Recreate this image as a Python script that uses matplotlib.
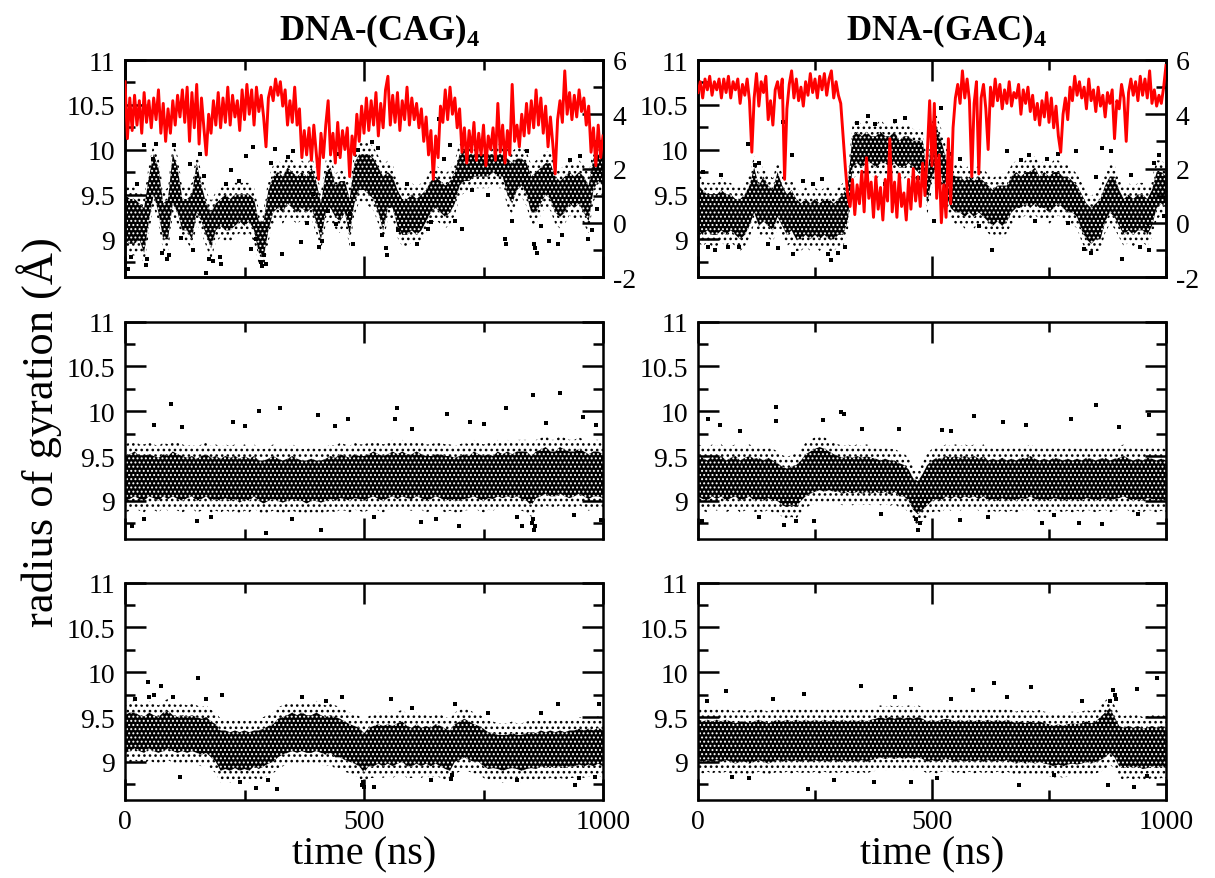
import matplotlib
matplotlib.use('Agg')
import matplotlib.pyplot as plt
from matplotlib.ticker import FixedLocator

plt.rcParams['font.family'] = ['Liberation Serif', 'DejaVu Serif']
plt.rcParams['mathtext.fontset'] = 'custom'
plt.rcParams['mathtext.rm'] = 'Liberation Serif'
plt.rcParams['mathtext.bf'] = 'Liberation Serif:bold'
plt.rcParams['axes.unicode_minus'] = False
plt.rcParams['hatch.linewidth'] = 1.0

# ---------------- data ----------------
time_grid = list(range(0, 1001, 10))   # ns, black Rg clouds (core band)
red_time = list(range(0, 1001, 5))     # ns, red series (right axis)

titles = ["DNA-(CAG)$_\\mathbf{4}$", "DNA-(GAC)$_\\mathbf{4}$"]
x_ticks = [0, 500, 1000]
y_ticks = [9, 9.5, 10, 10.5, 11]
y_tick_labels = ["9", "9.5", "10", "10.5", "11"]
y2_ticks = [-2, 0, 2, 4, 6]
y2_tick_labels = ["-2", "0", "2", "4", "6"]

# Top-left (CAG) Rg core band
TL_lo = [9.0, 8.95, 8.95, 9.0, 8.85, 9.2, 9.5, 9.3, 9.0, 9.0,
         9.4, 9.3, 9.1, 9.1, 9.0, 9.3, 9.2, 9.05, 8.9, 9.1,
         9.15, 9.1, 9.1, 9.15, 9.2, 9.15, 9.2, 9.1, 8.85, 8.8,
         9.1, 9.3, 9.35, 9.3, 9.4, 9.35, 9.3, 9.35, 9.3, 9.35,
         9.2, 9.0, 9.3, 9.35, 9.25, 9.2, 9.3, 9.05, 9.4, 9.55,
         9.55, 9.5, 9.45, 9.3, 9.1, 9.35, 9.35, 9.15, 9.05, 9.05,
         9.1, 9.05, 9.1, 9.2, 9.3, 9.35, 9.3, 9.25, 9.3, 9.4,
         9.6, 9.65, 9.65, 9.7, 9.7, 9.7, 9.7, 9.75, 9.7, 9.7,
         9.5, 9.4, 9.55, 9.6, 9.5, 9.3, 9.3, 9.4, 9.5, 9.45,
         9.3, 9.25, 9.3, 9.4, 9.35, 9.4, 9.3, 9.2, 9.55, 9.65,
         9.6]
TL_hi = [9.5, 9.45, 9.45, 9.4, 9.35, 9.7, 9.95, 9.8, 9.4, 9.45,
         9.95, 9.8, 9.45, 9.45, 9.5, 9.85, 9.6, 9.4, 9.3, 9.4,
         9.45, 9.5, 9.45, 9.5, 9.5, 9.5, 9.5, 9.45, 9.2, 9.2,
         9.55, 9.7, 9.75, 9.7, 9.8, 9.75, 9.7, 9.75, 9.7, 9.8,
         9.65, 9.4, 9.75, 9.8, 9.6, 9.65, 9.65, 9.45, 9.85, 9.95,
         9.95, 9.95, 9.9, 9.8, 9.7, 9.75, 9.7, 9.55, 9.45, 9.45,
         9.5, 9.45, 9.5, 9.55, 9.65, 9.7, 9.65, 9.6, 9.65, 9.75,
         9.95, 10.0, 9.95, 9.95, 9.95, 9.95, 9.95, 9.95, 9.95, 9.95,
         9.9, 9.85, 9.9, 9.9, 9.85, 9.7, 9.75, 9.8, 9.85, 9.85,
         9.7, 9.65, 9.7, 9.75, 9.7, 9.75, 9.7, 9.6, 9.9, 9.95,
         9.9]
TL_out_t = [6, 40, 44, 65, 103, 87, 135, 166, 170, 201, 198, 222, 254, 264, 268,
            284, 287, 290, 313, 329, 341, 369, 393, 425, 442, 470, 516, 545, 549,
            572, 641, 657, 680, 704, 795, 798, 855, 858, 862, 886, 905, 952, 968, 987,
            12, 25, 47, 58, 78, 92, 118, 143, 157, 176, 185, 211, 238, 275, 296,
            305, 352, 380, 406, 413, 448, 478, 488, 530, 538, 590, 610, 633, 668,
            690, 725, 760, 810, 842, 870, 915, 930, 978]
TL_out_v = [8.67, 10.05, 8.71, 10.06, 10.05, 8.78, 9.84, 9.71, 8.62, 8.72, 8.80,
            9.77, 9.93, 8.89, 10.03, 8.75, 8.70, 8.82, 10.01, 8.84, 9.92, 8.97,
            9.51, 9.32, 9.17, 9.28, 10.08, 8.9, 8.82, 9.10, 9.19, 10.34, 10.05,
            9.11, 9.0, 8.95, 8.95, 8.9, 8.85, 8.98, 8.95, 9.93, 9.0, 9.34,
            8.8, 9.62, 8.78, 9.9, 8.85, 8.82, 9.02, 8.88, 9.95, 8.78, 8.76, 9.62,
            9.65, 9.0, 8.72, 9.85, 9.98, 9.18, 8.92, 8.98, 9.95, 8.95, 10.0, 10.02,
            9.05, 9.62, 8.95, 9.12, 9.9, 9.2, 9.55, 9.5, 9.2, 9.98, 9.15, 9.05,
            9.88, 9.1]

# Top-left red series (right axis)
TL_red = [5.2, 3.1, 4.6, 3.4, 4.7, 3.6, 4.5, 3.3, 4.8, 3.7,
          4.5, 3.5, 4.6, 3.8, 4.9, 3.3, 4.4, 3.0, 4.2, 3.3,
          4.5, 3.6, 4.7, 3.9, 4.9, 3.7, 5.0, 3.0, 4.8, 3.5,
          5.1, 2.9, 4.6, 3.5, 2.5, 4.0, 3.3, 4.5, 3.6, 4.8,
          3.5, 4.6, 3.7, 5.0, 3.6, 4.7, 3.9, 4.5, 3.4, 4.9,
          3.8, 5.1, 4.0, 4.9, 3.6, 5.0, 4.1, 4.7, 3.9, 2.8,
          4.6, 5.0, 4.5, 5.3, 4.7, 5.2, 4.3, 4.9, 3.6, 4.5,
          3.7, 5.0, 3.6, 4.2, 2.4, 3.4, 2.5, 3.5, 2.3, 3.6,
          2.6, 1.6, 3.3, 2.4, 3.6, 4.5, 2.5, 3.3, 2.2, 3.7,
          2.4, 3.4, 2.7, 3.5, 1.7, 3.2, 2.5, 4.0, 3.0, 4.3,
          3.3, 4.6, 3.4, 4.5, 3.6, 4.8, 3.2, 4.4, 3.5, 4.9,
          5.4, 3.6, 4.7, 3.7, 4.8, 3.4, 4.5, 3.8, 5.0, 3.6,
          4.6, 3.8, 4.4, 3.5, 4.2, 3.0, 3.9, 2.5, 3.4, 1.6,
          3.2, 2.4, 4.3, 3.7, 4.9, 3.8, 5.0, 4.0, 4.6, 3.5,
          4.2, 2.6, 3.5, 2.2, 3.4, 2.6, 3.7, 2.3, 3.3, 2.5,
          3.6, 2.1, 3.2, 2.7, 3.5, 2.3, 4.4, 2.6, 3.6, 2.2,
          3.4, 2.5, 5.1, 3.0, 3.6, 2.8, 4.0, 3.2, 4.4, 3.3,
          4.5, 3.5, 4.9, 3.6, 4.6, 3.3, 4.3, 2.8, 3.9, 2.9,
          1.8, 3.8, 4.5, 3.7, 5.6, 4.0, 4.8, 3.8, 4.7, 3.9,
          4.9, 4.1, 4.6, 3.6, 4.3, 2.6, 3.5, 2.1, 3.6, 2.4,
          3.2]

# Top-right (GAC) Rg core band
TR_lo = [9.1, 9.05, 9.1, 9.05, 9.05, 9.1, 9.05, 9.1, 9.05, 9.0,
         9.05, 9.15, 9.3, 9.15, 9.2, 9.15, 9.1, 9.25, 9.15, 9.05,
         9.1, 9.0, 9.0, 9.05, 9.0, 9.05, 9.0, 9.05, 9.0, 9.0,
         9.05, 9.05, 9.2, 9.8, 9.85, 9.8, 9.85, 9.85, 9.8, 9.85,
         9.85, 9.8, 9.85, 9.8, 9.8, 9.85, 9.8, 9.75, 9.8, 9.4,
         9.7, 9.8, 9.7, 9.5, 9.35, 9.3, 9.3, 9.25, 9.3, 9.25,
         9.3, 9.25, 9.2, 9.15, 9.2, 9.15, 9.2, 9.3, 9.35, 9.35,
         9.4, 9.35, 9.4, 9.35, 9.35, 9.3, 9.35, 9.4, 9.35, 9.3,
         9.3, 9.25, 9.1, 9.0, 8.95, 9.0, 9.0, 9.2, 9.3, 9.25,
         9.15, 9.05, 9.1, 9.05, 9.1, 9.1, 9.05, 9.15, 9.35, 9.4,
         9.35]
TR_hi = [9.6, 9.55, 9.5, 9.5, 9.5, 9.55, 9.5, 9.5, 9.45, 9.45,
         9.5, 9.6, 9.8, 9.6, 9.7, 9.6, 9.55, 9.75, 9.6, 9.5,
         9.55, 9.45, 9.4, 9.45, 9.4, 9.45, 9.4, 9.45, 9.45, 9.4,
         9.45, 9.5, 9.6, 10.15, 10.2, 10.15, 10.2, 10.15, 10.15, 10.2,
         10.15, 10.15, 10.2, 10.1, 10.15, 10.15, 10.1, 10.1, 10.1, 9.7,
         10.2, 10.25, 10.1, 9.9, 9.75, 9.7, 9.7, 9.65, 9.7, 9.65,
         9.7, 9.65, 9.6, 9.55, 9.6, 9.6, 9.6, 9.7, 9.75, 9.7,
         9.75, 9.75, 9.8, 9.7, 9.75, 9.7, 9.75, 9.75, 9.7, 9.7,
         9.65, 9.6, 9.5, 9.4, 9.35, 9.4, 9.45, 9.6, 9.7, 9.7,
         9.55, 9.45, 9.5, 9.45, 9.5, 9.5, 9.45, 9.55, 9.75, 9.75,
         9.7]
TR_out_t = [21, 36, 64, 107, 121, 182, 200, 203, 264, 285, 278, 314, 364, 442,
            378, 520, 504, 629, 661, 707, 746, 807, 824, 864, 882, 907, 963, 985, 996,
            10, 50, 88, 130, 150, 170, 225, 245, 300, 340, 400, 420, 470, 540, 560,
            600, 690, 720, 770, 790, 840, 850, 925, 945, 975]
TR_out_v = [8.91, 8.88, 8.91, 10.06, 9.83, 10.31, 9.94, 8.84, 9.67, 8.77, 8.84,
            8.91, 10.38, 10.35, 10.29, 10.46, 9.21, 8.88, 9.98, 9.94, 9.9, 9.98,
            8.89, 10.02, 9.98, 8.78, 8.88, 9.94, 9.26,
            9.75, 9.72, 8.92, 9.85, 8.95, 8.9, 9.65, 9.62, 8.85, 10.3, 9.62,
            10.32, 9.68, 9.95, 9.9, 9.15, 9.88, 9.2, 9.95, 9.18, 8.85, 9.7, 9.72,
            8.92, 9.85]

# Top-right red series (right axis)
TR_red = [4.8, 5.2, 4.6, 5.3, 4.9, 5.4, 4.7, 5.2, 4.9, 5.3,
          4.6, 5.3, 4.8, 5.4, 4.6, 5.2, 4.9, 5.3, 4.4, 5.1,
          4.7, 5.3, 4.5, 2.6, 4.6, 5.5, 4.3, 5.2, 4.8, 5.4,
          3.8, 4.5, 3.6, 4.9, 5.2, 4.6, 5.3, 1.6, 4.2, 5.1,
          5.6, 4.6, 5.3, 4.5, 5.0, 4.3, 5.2, 4.7, 5.5, 4.8,
          5.3, 4.6, 5.4, 4.9, 5.5, 4.7, 5.3, 5.6, 4.6, 5.2,
          4.7, 4.4, 3.2, 2.0, 1.0, 0.6, 1.6, 0.3, 1.4, 0.7,
          1.9, 0.4, 2.4, 0.9, 1.5, 0.2, 1.7, 0.5, 1.3, 0.1,
          1.6, 0.8, 3.1, 0.4, 1.5, 0.2, 1.8, 0.6, 1.1, 0.1,
          1.6, 0.5, 2.0, 0.8, 1.7, 0.6, 2.2, 1.0, 2.6, 4.5,
          2.1, 4.4, 0.9, 2.5, 0.0, 1.4, 0.2, 3.1, 0.7, 3.5,
          4.6, 5.1, 4.4, 5.6, 4.6, 5.3, 4.5, 1.7, 4.4, 5.2,
          1.8, 4.6, 5.1, 4.2, 2.7, 5.0, 4.3, 5.3, 4.5, 5.1,
          4.2, 4.9, 4.4, 5.2, 4.3, 4.8, 4.6, 5.1, 4.0, 4.9,
          4.4, 5.0, 4.1, 4.7, 3.8, 4.4, 3.6, 4.5, 3.9, 4.8,
          3.7, 4.6, 3.5, 4.3, 3.2, 2.6, 4.0, 4.6, 3.8, 5.0,
          4.5, 5.4, 4.7, 5.2, 4.6, 5.0, 4.2, 5.3, 4.5, 4.9,
          4.1, 5.0, 4.3, 4.7, 3.9, 4.8, 4.4, 4.9, 3.1, 4.5,
          4.2, 5.1, 4.6, 3.0, 4.8, 5.3, 4.7, 5.2, 4.5, 5.4,
          4.7, 5.3, 4.6, 5.6, 4.4, 4.9, 4.3, 4.7, 4.4, 5.0,
          5.8]

# Middle-left (CAG) Rg core band
ML_lo = [9.0, 9.02, 9.05, 9.02, 9.0, 9.05, 9.03, 9.0, 9.05, 9.02,
         9.05, 9.02, 9.0, 9.03, 9.05, 9.0, 9.02, 9.05, 9.0, 9.02,
         9.0, 9.03, 9.0, 9.02, 8.98, 9.02, 9.0, 9.05, 9.0, 8.97,
         9.0, 9.02, 9.0, 8.98, 9.0, 9.02, 9.0, 9.0, 8.97, 9.0,
         9.0, 8.98, 9.0, 9.02, 9.0, 9.03, 9.02, 9.0, 9.03, 9.02,
         9.0, 9.03, 9.05, 9.02, 9.0, 9.03, 9.05, 9.02, 9.05, 9.03,
         9.02, 9.05, 9.03, 9.0, 9.02, 9.05, 9.03, 9.0, 9.02, 9.0,
         9.0, 9.02, 9.03, 9.05, 9.02, 9.0, 9.03, 9.02, 9.05, 9.03,
         9.05, 9.03, 9.05, 9.02, 9.0, 8.95, 9.03, 9.05, 9.08, 9.05,
         9.05, 9.08, 9.05, 9.03, 9.05, 9.08, 9.05, 9.02, 9.05, 9.05,
         9.03]
ML_hi = [9.5, 9.52, 9.55, 9.5, 9.5, 9.52, 9.5, 9.48, 9.52, 9.5,
         9.55, 9.52, 9.5, 9.48, 9.5, 9.47, 9.5, 9.52, 9.48, 9.5,
         9.47, 9.5, 9.48, 9.5, 9.47, 9.5, 9.47, 9.5, 9.45, 9.45,
         9.47, 9.5, 9.47, 9.45, 9.47, 9.5, 9.47, 9.45, 9.45, 9.47,
         9.45, 9.45, 9.47, 9.5, 9.48, 9.52, 9.5, 9.48, 9.52, 9.5,
         9.5, 9.52, 9.55, 9.52, 9.5, 9.52, 9.55, 9.52, 9.55, 9.52,
         9.52, 9.55, 9.52, 9.5, 9.5, 9.52, 9.52, 9.5, 9.5, 9.48,
         9.5, 9.52, 9.5, 9.55, 9.52, 9.5, 9.52, 9.5, 9.55, 9.52,
         9.55, 9.52, 9.55, 9.55, 9.55, 9.5, 9.55, 9.57, 9.6, 9.55,
         9.55, 9.6, 9.57, 9.55, 9.55, 9.58, 9.55, 9.52, 9.55, 9.55,
         9.52]
ML_out_t = [96, 280, 324, 404, 569, 673, 797, 853, 911, 958, 294, 410, 856, 830,
            14, 698, 995, 226, 466, 565, 722, 852, 854, 857, 40, 150, 620,
            60, 120, 180, 250, 350, 440, 520, 600, 650, 750, 820, 880, 940, 985]
ML_out_v = [10.08, 10.0, 10.04, 9.96, 10.03, 9.97, 10.04, 10.18, 10.2, 9.93,
            8.64, 8.67, 8.68, 8.72, 8.72, 8.72, 8.79, 9.88, 9.91, 9.91, 9.88,
            8.75, 8.8, 8.72, 8.8, 8.78, 8.76,
            9.85, 9.82, 8.82, 9.84, 8.8, 9.83, 8.82, 9.8, 8.8, 9.86, 8.82,
            9.87, 8.84, 9.85]

# Middle-right (GAC) Rg core band
MR_lo = [9.05, 9.02, 9.0, 9.05, 9.02, 9.05, 9.0, 9.03, 9.05, 9.0,
         9.02, 9.05, 9.0, 9.02, 9.0, 9.03, 9.0, 9.0, 8.95, 8.93,
         8.95, 8.93, 9.0, 9.05, 9.08, 9.1, 9.12, 9.1, 9.12, 9.1,
         9.1, 9.08, 9.1, 9.08, 9.1, 9.08, 9.1, 9.08, 9.1, 9.08,
         9.1, 9.07, 9.1, 9.05, 9.05, 9.0, 8.9, 8.85, 8.9, 8.95,
         9.0, 9.02, 9.0, 9.05, 9.02, 9.05, 9.02, 9.05, 9.03, 9.05,
         9.02, 9.05, 9.0, 9.02, 9.0, 9.03, 9.0, 9.02, 9.0, 9.03,
         9.02, 9.05, 9.02, 9.0, 9.02, 9.0, 9.03, 9.02, 9.0, 9.02,
         9.0, 9.02, 9.0, 9.03, 9.02, 9.0, 9.02, 9.03, 9.0, 9.02,
         9.03, 9.05, 9.02, 9.0, 9.02, 9.0, 9.03, 9.02, 9.0, 9.02,
         9.0]
MR_hi = [9.5, 9.48, 9.45, 9.5, 9.48, 9.5, 9.45, 9.48, 9.5, 9.45,
         9.48, 9.5, 9.47, 9.48, 9.45, 9.48, 9.45, 9.42, 9.38, 9.36,
         9.38, 9.4, 9.45, 9.52, 9.55, 9.58, 9.6, 9.58, 9.55, 9.52,
         9.5, 9.48, 9.5, 9.48, 9.5, 9.48, 9.5, 9.48, 9.47, 9.45,
         9.47, 9.45, 9.45, 9.42, 9.4, 9.35, 9.25, 9.22, 9.3, 9.4,
         9.45, 9.48, 9.47, 9.5, 9.48, 9.5, 9.48, 9.5, 9.48, 9.5,
         9.47, 9.5, 9.45, 9.47, 9.45, 9.48, 9.45, 9.47, 9.45, 9.48,
         9.47, 9.5, 9.47, 9.45, 9.47, 9.45, 9.48, 9.47, 9.45, 9.47,
         9.45, 9.47, 9.45, 9.48, 9.47, 9.45, 9.47, 9.48, 9.45, 9.47,
         9.48, 9.5, 9.47, 9.45, 9.47, 9.45, 9.48, 9.47, 9.45, 9.47,
         9.45]
MR_out_t = [166, 166, 268, 305, 312, 590, 850, 797, 651, 964, 184, 470, 248, 736,
            864, 815, 9, 560, 21, 48, 430, 522, 465, 475,
            90, 130, 210, 350, 390, 540, 620, 700, 760, 900, 940]
MR_out_v = [10.05, 9.89, 9.9, 9.99, 9.97, 9.95, 10.07, 9.91, 9.88, 9.96, 8.73,
            8.68, 8.77, 8.75, 8.74, 8.75, 8.77, 8.79, 9.91, 9.85, 9.8, 9.79,
            8.8, 8.75,
            9.78, 8.82, 8.78, 9.8, 8.85, 9.78, 8.82, 9.85, 8.84, 9.82, 8.85]

# Bottom-left (CAG) Rg core band
BL_lo = [9.1, 9.12, 9.15, 9.12, 9.1, 9.15, 9.12, 9.1, 9.12, 9.15,
         9.12, 9.1, 9.12, 9.1, 9.12, 9.1, 9.08, 9.1, 9.05, 9.0,
         8.9, 8.92, 8.9, 8.93, 8.9, 8.92, 8.9, 8.95, 8.92, 8.95,
         8.98, 9.0, 9.05, 9.08, 9.1, 9.12, 9.1, 9.12, 9.1, 9.1,
         9.12, 9.1, 9.08, 9.1, 9.05, 9.05, 9.02, 9.0, 8.98, 8.95,
         8.88, 8.95, 8.95, 8.98, 8.95, 8.98, 8.95, 8.98, 9.0, 8.95,
         8.95, 8.98, 8.95, 8.98, 8.95, 8.98, 8.95, 8.92, 8.9, 9.0,
         9.02, 9.05, 9.02, 9.0, 9.0, 8.95, 8.92, 8.93, 8.92, 8.9,
         8.92, 8.93, 8.92, 8.9, 8.92, 8.93, 8.92, 8.95, 8.93, 8.95,
         8.93, 8.95, 8.93, 8.95, 8.95, 8.97, 8.95, 8.97, 8.95, 8.98,
         8.95]
BL_hi = [9.52, 9.55, 9.55, 9.52, 9.5, 9.55, 9.52, 9.5, 9.55, 9.57,
         9.52, 9.5, 9.52, 9.5, 9.52, 9.5, 9.48, 9.5, 9.45, 9.42,
         9.35, 9.35, 9.33, 9.35, 9.33, 9.35, 9.33, 9.35, 9.35, 9.37,
         9.4, 9.42, 9.48, 9.5, 9.52, 9.55, 9.52, 9.55, 9.52, 9.52,
         9.55, 9.52, 9.5, 9.52, 9.5, 9.48, 9.45, 9.42, 9.4, 9.38,
         9.32, 9.38, 9.4, 9.42, 9.4, 9.42, 9.4, 9.43, 9.45, 9.4,
         9.38, 9.42, 9.38, 9.4, 9.38, 9.42, 9.4, 9.37, 9.35, 9.42,
         9.45, 9.48, 9.45, 9.42, 9.4, 9.37, 9.33, 9.32, 9.3, 9.3,
         9.3, 9.32, 9.3, 9.3, 9.32, 9.33, 9.32, 9.35, 9.33, 9.35,
         9.33, 9.35, 9.33, 9.35, 9.35, 9.37, 9.35, 9.37, 9.35, 9.38,
         9.35]
BL_out_t = [48, 76, 152, 51, 202, 371, 454, 557, 690, 906, 992, 115, 274, 317,
            495, 520, 681, 942, 983, 60, 20, 498, 500, 684,
            100, 170, 240, 300, 420, 600, 640, 760, 820, 870, 950]
BL_out_v = [9.89, 9.85, 9.94, 9.72, 9.74, 9.72, 9.72, 9.7, 9.64, 9.65, 9.65, 8.83,
            8.71, 8.7, 8.74, 8.72, 8.81, 8.74, 8.83, 9.75, 9.7, 8.78, 8.72, 8.85,
            9.72, 9.7, 8.78, 8.8, 9.68, 9.6, 8.8, 9.55, 8.8, 9.55, 8.82]

# Bottom-right (GAC) Rg core band
BR_lo = [9.02, 9.0, 9.02, 9.0, 9.02, 9.0, 9.02, 9.0, 8.98, 9.0,
         9.0, 8.98, 9.0, 9.02, 9.0, 8.98, 9.0, 9.02, 9.0, 9.02,
         9.0, 9.02, 9.0, 9.02, 9.0, 9.02, 9.0, 9.02, 9.0, 9.02,
         9.0, 9.02, 9.0, 9.02, 9.0, 9.02, 9.0, 9.02, 9.03, 9.05,
         9.03, 9.05, 9.03, 9.05, 9.03, 9.05, 9.03, 9.05, 9.03, 9.0,
         9.02, 9.0, 9.02, 9.03, 9.02, 9.0, 9.02, 9.0, 9.02, 9.0,
         9.02, 9.0, 9.02, 9.0, 9.02, 9.0, 9.02, 9.0, 8.98, 9.0,
         8.98, 9.0, 8.98, 9.0, 8.98, 8.97, 8.95, 8.97, 8.95, 8.97,
         8.98, 8.97, 8.98, 9.0, 8.98, 9.0, 9.02, 9.05, 9.1, 9.05,
         8.95, 8.93, 8.95, 8.93, 8.95, 8.92, 8.93, 8.95, 8.93, 8.95,
         8.93]
BR_hi = [9.48, 9.45, 9.47, 9.45, 9.47, 9.45, 9.47, 9.45, 9.43, 9.45,
         9.45, 9.43, 9.45, 9.47, 9.45, 9.43, 9.45, 9.47, 9.45, 9.47,
         9.45, 9.47, 9.45, 9.47, 9.45, 9.47, 9.45, 9.47, 9.45, 9.47,
         9.45, 9.47, 9.45, 9.47, 9.45, 9.47, 9.45, 9.47, 9.48, 9.5,
         9.48, 9.5, 9.48, 9.5, 9.48, 9.5, 9.48, 9.5, 9.48, 9.45,
         9.47, 9.45, 9.47, 9.48, 9.47, 9.45, 9.47, 9.45, 9.47, 9.45,
         9.47, 9.45, 9.47, 9.45, 9.47, 9.45, 9.47, 9.45, 9.43, 9.45,
         9.43, 9.45, 9.43, 9.45, 9.43, 9.42, 9.4, 9.42, 9.4, 9.42,
         9.43, 9.42, 9.43, 9.45, 9.43, 9.45, 9.5, 9.55, 9.6, 9.5,
         9.4, 9.38, 9.4, 9.38, 9.4, 9.37, 9.38, 9.4, 9.38, 9.4,
         9.38]
BR_out_t = [59, 227, 348, 455, 587, 633, 711, 886, 939, 980, 234, 686, 932, 875,
            73, 455, 376, 890, 893, 880,
            20, 110, 160, 290, 420, 510, 540, 660, 760, 820, 960]
BR_out_v = [9.79, 9.76, 9.85, 9.81, 9.8, 9.88, 9.83, 9.8, 9.81, 9.93, 8.7, 8.74,
            8.72, 8.74, 8.83, 8.78, 8.78, 9.75, 9.7, 9.68,
            9.68, 8.82, 9.7, 8.8, 9.72, 8.82, 9.7, 9.72, 8.85, 9.68, 8.84]

cores = [[(TL_lo, TL_hi, TL_out_t, TL_out_v), (TR_lo, TR_hi, TR_out_t, TR_out_v)],
         [(ML_lo, ML_hi, ML_out_t, ML_out_v), (MR_lo, MR_hi, MR_out_t, MR_out_v)],
         [(BL_lo, BL_hi, BL_out_t, BL_out_v), (BR_lo, BR_hi, BR_out_t, BR_out_v)]]
reds = [TL_red, TR_red]

# ---------------- layout / style ----------------
W, H = 1215, 879
fig = plt.figure(figsize=(W / 100, H / 100), dpi=100)
col_left = [125, 698]
col_width = [478, 468]
row_top = [61, 322.5, 583.5]
row_h = 217
TICK_FS = 20
HALO = 0.13   # visual fuzz of the dot cloud beyond its dense core


def style_axis(ax, side_right=True):
    ax.set_xlim(0, 1000)
    ax.set_ylim(8.58, 11)
    ax.xaxis.set_major_locator(FixedLocator(x_ticks))
    ax.xaxis.set_minor_locator(FixedLocator([250, 750]))
    ax.set_yticks(y_ticks)
    ax.set_yticklabels(y_tick_labels)
    ax.yaxis.set_minor_locator(FixedLocator([8.75, 9.25, 9.75, 10.25, 10.75]))
    ax.tick_params(which='both', direction='in', top=True, right=side_right,
                   labelsize=TICK_FS, width=1.8, pad=7)
    ax.tick_params(which='major', length=15)
    ax.tick_params(which='minor', length=7.5)
    for sp in ax.spines.values():
        sp.set_linewidth(1.8)


for r in range(3):
    for c in range(2):
        x0 = col_left[c] / W
        y0 = 1 - (row_top[r] + row_h) / H
        ax = fig.add_axes([x0, y0, col_width[c] / W, row_h / H])
        lo, hi, ot, ov = cores[r][c]
        style_axis(ax, side_right=(r != 0))
        lo_halo = [v - HALO for v in lo]
        hi_halo = [v + HALO for v in hi]
        with plt.rc_context({'hatch.linewidth': 1.1}):
            ax.fill_between(time_grid, lo_halo, lo, facecolor='none', edgecolor='black',
                            hatch='...', linewidth=0, zorder=2)
            ax.fill_between(time_grid, hi, hi_halo, facecolor='none', edgecolor='black',
                            hatch='...', linewidth=0, zorder=2)
        with plt.rc_context({'hatch.linewidth': 0.9}):
            ax.fill_between(time_grid, lo, hi, facecolor='black', edgecolor='white',
                            hatch='....', linewidth=0, zorder=2)
        ax.scatter(ot, ov, s=5, color='black', marker='s', linewidths=0, zorder=3)
        if r < 2:
            ax.tick_params(labelbottom=False)
        else:
            ax.set_xlabel("time (ns)", fontsize=29, labelpad=1)
        if r == 0:
            ax2 = ax.twinx()
            ax2.set_ylim(-2, 6)
            ax2.set_yticks(y2_ticks)
            ax2.set_yticklabels(y2_tick_labels)
            ax2.yaxis.set_minor_locator(FixedLocator([-1, 1, 3, 5]))
            ax2.tick_params(which='both', direction='in', labelsize=TICK_FS,
                            width=1.8, pad=7)
            ax2.tick_params(which='major', length=15)
            ax2.tick_params(which='minor', length=7.5)
            for sp in ax2.spines.values():
                sp.set_linewidth(1.8)
            ax2.plot(red_time, reds[c], color='red', linewidth=2.1, zorder=4)

fig.text(380 / W, 1 - 40 / H, titles[0], fontsize=25, fontweight='bold',
         ha='center', va='baseline')
fig.text(947 / W, 1 - 40 / H, titles[1], fontsize=25, fontweight='bold',
         ha='center', va='baseline')
fig.text(40 / W, 1 - 432 / H, "radius of gyration (Å)", fontsize=32,
         rotation=90, ha='center', va='center')

fig.savefig("out.png", dpi=100)
